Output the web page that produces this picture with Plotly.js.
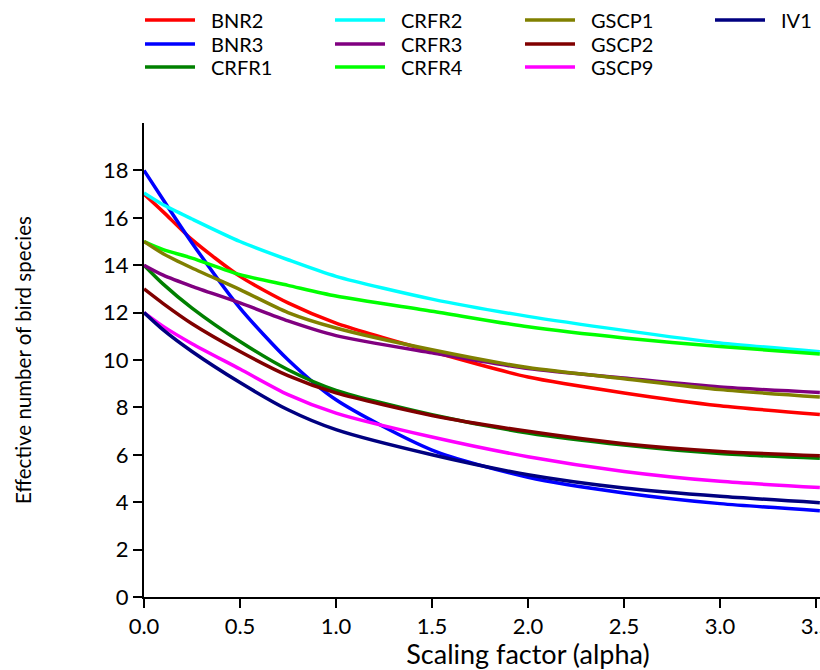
<!DOCTYPE html>
<html>
<head>
<meta charset="utf-8">
<script src="https://cdn.plot.ly/plotly-3.0.1.min.js"></script>
<style>
  html, body { margin: 0; padding: 0; overflow: hidden; background: #fff; }
  #chart { width: 922px; height: 670px; }
</style>
</head>
<body>
<div id="chart"></div>
<script>
// Scaling factor (alpha) sample positions
const xAlpha = [0, 0.1, 0.25, 0.5, 0.75, 1.0, 1.5, 2.0, 2.5, 3.0, 3.52];

// Effective number of bird species per site
const BNR2  = [17, 16.25, 15.08, 13.53, 12.41, 11.56, 10.36, 9.28, 8.61, 8.07, 7.70];
const BNR3  = [18, 16.76, 14.94, 12.19, 10.01, 8.32, 6.20, 5.05, 4.39, 3.94, 3.64];
const CRFR1 = [14, 13.20, 12.19, 10.78, 9.59, 8.72, 7.69, 6.92, 6.41, 6.05, 5.85];
const CRFR2 = [17.05, 16.55, 15.95, 15.00, 14.23, 13.53, 12.57, 11.84, 11.25, 10.72, 10.35];
const CRFR3 = [14, 13.58, 13.11, 12.41, 11.65, 11.03, 10.30, 9.64, 9.24, 8.86, 8.63];
const CRFR4 = [15, 14.66, 14.30, 13.60, 13.15, 12.70, 12.06, 11.40, 10.93, 10.57, 10.25];
const GSCP1 = [15, 14.48, 13.88, 12.97, 12.00, 11.35, 10.43, 9.68, 9.21, 8.75, 8.44];
const GSCP2 = [13, 12.38, 11.53, 10.36, 9.34, 8.61, 7.66, 6.99, 6.47, 6.14, 5.96];
const GSCP9 = [12, 11.42, 10.69, 9.62, 8.54, 7.76, 6.75, 5.92, 5.30, 4.88, 4.62];
const IV1   = [12, 11.27, 10.36, 9.05, 7.90, 7.06, 6.00, 5.16, 4.60, 4.25, 3.98];

const seriesNames = ["BNR2", "BNR3", "CRFR1", "CRFR2", "CRFR3", "CRFR4", "GSCP1", "GSCP2", "GSCP9", "IV1"];
const seriesValues = [BNR2, BNR3, CRFR1, CRFR2, CRFR3, CRFR4, GSCP1, GSCP2, GSCP9, IV1];
const seriesColors = ["#ff0000", "#0000ff", "#008000", "#00ffff", "#800080", "#00ff00", "#808000", "#800000", "#ff00ff", "#000080"];

const xTicks = [0, 0.5, 1.0, 1.5, 2.0, 2.5, 3.0, 3.5, 4.0];
const yTicks = [0, 2, 4, 6, 8, 10, 12, 14, 16, 18];

const FONT = "Lato, 'Open Sans', sans-serif";

// plot-area geometry (pixels) used to place the legend keys
const W = 922, H = 670;
const M = { l: 144, r: 10, t: 123, b: 73 };
const plotW = W - M.l - M.r, plotH = H - M.t - M.b;
const px2x = px => (px - M.l) / plotW;
const px2y = py => (H - M.b - py) / plotH;

const traces = seriesNames.map((name, i) => ({
  type: "scatter",
  mode: "lines",
  name: name,
  x: xAlpha,
  y: seriesValues[i],
  line: { color: seriesColors[i], width: 3.5, shape: "spline", smoothing: 0.7 },
  showlegend: false,
  hoverinfo: "x+y+name"
}));

// Legend: 4 columns x 3 rows, filled column by column
const colLeft = [145, 335, 525, 715];
const rowY = [20, 44, 67];
const shapes = [], annotations = [];
seriesNames.forEach((name, i) => {
  const c = Math.floor(i / 3), r = i % 3;
  shapes.push({
    type: "line", xref: "paper", yref: "paper",
    x0: px2x(colLeft[c]), x1: px2x(colLeft[c] + 50),
    y0: px2y(rowY[r]), y1: px2y(rowY[r]),
    line: { color: seriesColors[i], width: 3.5 }
  });
  annotations.push({
    xref: "paper", yref: "paper",
    x: px2x(colLeft[c] + 64), y: px2y(rowY[r]),
    xanchor: "left", yanchor: "middle",
    text: name, showarrow: false,
    font: { family: FONT, size: 20, color: "#000" }
  });
});

const layout = {
  width: W,
  height: H,
  margin: M,
  paper_bgcolor: "#fff",
  plot_bgcolor: "#fff",
  font: { family: FONT, size: 20, color: "#000" },
  showlegend: false,
  shapes: shapes,
  annotations: annotations,
  xaxis: {
    range: [0, 4],
    tickvals: xTicks,
    tickformat: ".1f",
    ticks: "outside",
    ticklen: 9,
    tickwidth: 2,
    tickcolor: "#000",
    showline: true,
    linewidth: 2,
    linecolor: "#000",
    showgrid: false,
    zeroline: false,
    tickfont: { family: FONT, size: 22, color: "#000" },
    title: { text: "Scaling factor (alpha)", font: { family: FONT, size: 27, color: "#000" }, standoff: 11 }
  },
  yaxis: {
    range: [0, 20],
    tickvals: yTicks,
    ticks: "outside",
    ticklen: 9,
    tickwidth: 2,
    tickcolor: "#000",
    showline: true,
    linewidth: 2,
    linecolor: "#000",
    showgrid: false,
    zeroline: false,
    tickfont: { family: FONT, size: 22, color: "#000" },
    title: { text: "Effective number of bird species", font: { family: FONT, size: 20.5, color: "#000" }, standoff: 66 }
  }
};

Plotly.newPlot("chart", traces, layout, { displayModeBar: false, responsive: false });
</script>
</body>
</html>
